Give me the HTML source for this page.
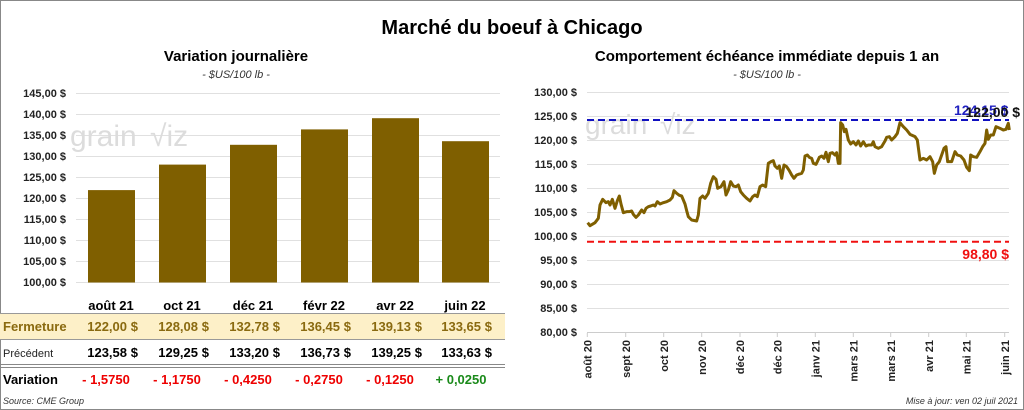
<!DOCTYPE html>
<html><head><meta charset="utf-8"><style>
body{margin:0;background:#fff;}
svg{display:block;font-family:"Liberation Sans",sans-serif;}
</style></head><body>
<svg width="1024" height="410" viewBox="0 0 1024 410" xmlns="http://www.w3.org/2000/svg">
<rect x="0.5" y="0.5" width="1023" height="409" fill="#fff" stroke="#888"/>
<text x="512" y="34" text-anchor="middle" font-size="20" font-weight="bold" fill="#000">Marché du boeuf à Chicago</text>
<text x="236" y="61" text-anchor="middle" font-size="15" font-weight="bold">Variation  journalière</text>
<text x="236" y="78" text-anchor="middle" font-size="11" font-style="italic" fill="#333">- $US/100 lb -</text>
<text x="767" y="61" text-anchor="middle" font-size="15" font-weight="bold">Comportement  échéance immédiate depuis 1 an</text>
<text x="767" y="78" text-anchor="middle" font-size="11" font-style="italic" fill="#333">- $US/100 lb -</text>

<g stroke="#e0e0e0" stroke-width="1">
<line x1="76" x2="500" y1="93.5" y2="93.5"/><line x1="76" x2="500" y1="114.5" y2="114.5"/><line x1="76" x2="500" y1="135.5" y2="135.5"/><line x1="76" x2="500" y1="156.5" y2="156.5"/><line x1="76" x2="500" y1="177.5" y2="177.5"/><line x1="76" x2="500" y1="198.5" y2="198.5"/><line x1="76" x2="500" y1="219.5" y2="219.5"/><line x1="76" x2="500" y1="240.5" y2="240.5"/><line x1="76" x2="500" y1="261.5" y2="261.5"/><line x1="76" x2="500" y1="282.5" y2="282.5"/>
</g>
<g font-size="11" font-weight="bold" text-anchor="end" fill="#222">
<text x="66" y="97">145,00 $</text><text x="66" y="118">140,00 $</text><text x="66" y="139">135,00 $</text><text x="66" y="160">130,00 $</text><text x="66" y="181">125,00 $</text><text x="66" y="202">120,00 $</text><text x="66" y="223">115,00 $</text><text x="66" y="244">110,00 $</text><text x="66" y="265">105,00 $</text><text x="66" y="286">100,00 $</text>
</g>
<text x="70" y="146" font-size="30" fill="#dcdcdc">grain</text><text x="150" y="146" font-size="30" fill="#dcdcdc">√iz</text>
<g fill="#7f5f00">
<rect x="88" y="190.1" width="47" height="92.4"/>
<rect x="159" y="164.6" width="47" height="117.9"/>
<rect x="230" y="144.8" width="47" height="137.7"/>
<rect x="301" y="129.4" width="47" height="153.1"/>
<rect x="372" y="118.2" width="47" height="164.3"/>
<rect x="442" y="141.2" width="47" height="141.3"/>
</g>
<rect x="0" y="314" width="505" height="25" fill="#fdf0c8"/>
<line x1="0" x2="505" y1="313.5" y2="313.5" stroke="#999"/>
<line x1="0" x2="505" y1="339.5" y2="339.5" stroke="#999"/>
<line x1="0" x2="505" y1="364.5" y2="364.5" stroke="#888"/>
<line x1="0" x2="505" y1="367.5" y2="367.5" stroke="#888"/>
<g font-size="13" font-weight="bold" text-anchor="middle">
<text x="111" y="310">août 21</text><text x="182" y="310">oct 21</text><text x="253" y="310">déc 21</text><text x="324" y="310">févr 22</text><text x="395" y="310">avr 22</text><text x="465" y="310">juin 22</text>
</g>
<text x="3" y="331" font-size="13" font-weight="bold" fill="#8a6a10">Fermeture</text>
<g font-size="13" font-weight="bold" fill="#8a6a10" text-anchor="end">
<text x="127" y="331">122,00</text><text x="198" y="331">128,08</text><text x="269" y="331">132,78</text><text x="340" y="331">136,45</text><text x="411" y="331">139,13</text><text x="481" y="331">133,65</text>
<text x="138" y="331">$</text><text x="209" y="331">$</text><text x="280" y="331">$</text><text x="351" y="331">$</text><text x="422" y="331">$</text><text x="492" y="331">$</text>
</g>
<text x="3" y="357" font-size="11" fill="#222">Précédent</text>
<g font-size="13" font-weight="bold" text-anchor="end">
<text x="127" y="357">123,58</text><text x="198" y="357">129,25</text><text x="269" y="357">133,20</text><text x="340" y="357">136,73</text><text x="411" y="357">139,25</text><text x="481" y="357">133,63</text>
<text x="138" y="357">$</text><text x="209" y="357">$</text><text x="280" y="357">$</text><text x="351" y="357">$</text><text x="422" y="357">$</text><text x="492" y="357">$</text>
</g>
<text x="3" y="384" font-size="13" font-weight="bold">Variation</text>
<g font-size="13" font-weight="bold" text-anchor="middle" fill="#e00">
<text x="106" y="384">- 1,5750</text><text x="177" y="384">- 1,1750</text><text x="248" y="384">- 0,4250</text><text x="319" y="384">- 0,2750</text><text x="390" y="384">- 0,1250</text><text x="461" y="384" fill="#1a8a1a">+ 0,0250</text>
</g>
<text x="3" y="404" font-size="9" font-style="italic" fill="#333">Source: CME Group</text>

<g stroke="#e0e0e0">
<line x1="587" x2="1009" y1="92.5" y2="92.5"/><line x1="587" x2="1009" y1="116.5" y2="116.5"/><line x1="587" x2="1009" y1="140.5" y2="140.5"/><line x1="587" x2="1009" y1="164.5" y2="164.5"/><line x1="587" x2="1009" y1="188.5" y2="188.5"/><line x1="587" x2="1009" y1="212.5" y2="212.5"/><line x1="587" x2="1009" y1="236.5" y2="236.5"/><line x1="587" x2="1009" y1="260.5" y2="260.5"/><line x1="587" x2="1009" y1="284.5" y2="284.5"/><line x1="587" x2="1009" y1="308.5" y2="308.5"/>
</g>
<line x1="587" x2="1009" y1="332.5" y2="332.5" stroke="#ccc"/>
<g stroke="#ccc">
<line x1="587.3" x2="587.3" y1="333" y2="337"/><line x1="625.7" x2="625.7" y1="333" y2="337"/><line x1="663.7" x2="663.7" y1="333" y2="337"/><line x1="701.7" x2="701.7" y1="333" y2="337"/><line x1="740" x2="740" y1="333" y2="337"/><line x1="777.3" x2="777.3" y1="333" y2="337"/><line x1="815.3" x2="815.3" y1="333" y2="337"/><line x1="853.3" x2="853.3" y1="333" y2="337"/><line x1="890.7" x2="890.7" y1="333" y2="337"/><line x1="928.7" x2="928.7" y1="333" y2="337"/><line x1="966.3" x2="966.3" y1="333" y2="337"/><line x1="1004.7" x2="1004.7" y1="333" y2="337"/>
</g>
<g font-size="11" font-weight="bold" text-anchor="end" fill="#222">
<text x="577" y="96">130,00 $</text><text x="577" y="120">125,00 $</text><text x="577" y="144">120,00 $</text><text x="577" y="168">115,00 $</text><text x="577" y="192">110,00 $</text><text x="577" y="216">105,00 $</text><text x="577" y="240">100,00 $</text><text x="577" y="264">95,00 $</text><text x="577" y="288">90,00 $</text><text x="577" y="312">85,00 $</text><text x="577" y="336">80,00 $</text>
</g>
<g font-size="11" font-weight="bold" text-anchor="end" fill="#222">
<text transform="translate(591.5,340) rotate(-90)">août 20</text>
<text transform="translate(629.9,340) rotate(-90)">sept 20</text>
<text transform="translate(667.9,340) rotate(-90)">oct 20</text>
<text transform="translate(705.9,340) rotate(-90)">nov 20</text>
<text transform="translate(744.2,340) rotate(-90)">déc 20</text>
<text transform="translate(781.5,340) rotate(-90)">déc 20</text>
<text transform="translate(819.5,340) rotate(-90)">janv 21</text>
<text transform="translate(857.5,340) rotate(-90)">mars 21</text>
<text transform="translate(894.9,340) rotate(-90)">mars 21</text>
<text transform="translate(932.9,340) rotate(-90)">avr 21</text>
<text transform="translate(970.5,340) rotate(-90)">mai 21</text>
<text transform="translate(1008.9,340) rotate(-90)">juin 21</text>
</g>
<text x="585" y="134" font-size="28" fill="#dcdcdc">grain</text><text x="660" y="134" font-size="28" fill="#dcdcdc">√iz</text>
<line x1="587" x2="1009" y1="120" y2="120" stroke="#1010c0" stroke-width="2" stroke-dasharray="7,4"/>
<line x1="587" x2="1009" y1="241.7" y2="241.7" stroke="#f01010" stroke-width="2" stroke-dasharray="7,4"/>
<text x="1009" y="259" font-size="14" font-weight="bold" fill="#f01010" text-anchor="end">98,80 $</text>
<text x="954" y="115" font-size="14" font-weight="bold" fill="#2020c0">124,15 $</text>
<text x="1020" y="117" font-size="14" font-weight="bold" fill="#111" text-anchor="end">122,00 $</text>
<g transform="translate(520,80) scale(0.33333)">
<polyline fill="none" stroke="#7f5f00" stroke-width="9" stroke-linejoin="round" points="203,428 210,437 225,428 235,415 240,375 248,358 258,368 265,365 270,375 277,358 285,385 292,362 298,348 303,372 310,398 320,395 327,395 335,393 340,403 348,412 355,405 365,390 372,398 378,385 385,380 392,378 400,375 405,378 412,365 420,372 430,368 440,365 450,360 457,352 462,332 470,340 478,346 485,348 495,372 500,392 505,410 515,420 530,423 535,405 540,355 548,348 555,355 565,340 572,310 580,290 588,298 593,325 603,320 612,305 618,345 625,330 632,305 640,318 648,320 655,315 662,335 670,345 680,355 690,363 698,350 705,345 712,350 720,320 728,315 737,320 745,250 753,245 760,242 765,258 772,265 778,258 785,295 792,255 800,260 808,272 815,285 822,295 830,285 838,282 845,280 850,270 855,228 862,225 868,232 875,235 880,250 888,253 892,245 898,232 905,228 912,235 918,217 925,245 930,220 937,218 945,225 950,218 955,250 960,250 962,128 968,135 973,155 978,148 985,180 992,192 1000,185 1008,195 1015,183 1022,198 1030,185 1038,198 1045,195 1055,195 1060,185 1065,200 1075,205 1085,200 1095,183 1100,172 1108,170 1115,180 1125,170 1132,160 1140,128 1150,140 1160,150 1170,163 1185,170 1192,180 1200,240 1210,235 1220,240 1230,230 1238,245 1243,280 1250,255 1258,245 1265,225 1272,205 1278,200 1283,245 1295,245 1305,215 1312,225 1322,228 1332,240 1340,262 1348,272 1352,225 1360,230 1370,232 1380,215 1388,200 1395,190 1400,150 1405,178 1412,165 1420,165 1428,140 1440,145 1450,150 1458,148 1465,130 1468,150"/>
</g>
<text x="1018" y="404" font-size="9" font-style="italic" fill="#333" text-anchor="end">Mise à jour: ven 02 juil 2021</text>
</svg>
</body></html>
